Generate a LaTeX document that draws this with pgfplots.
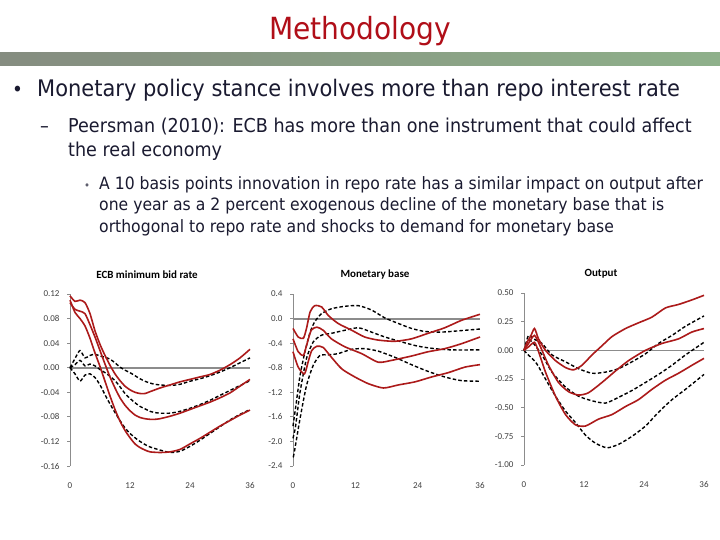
\documentclass[border=0pt]{standalone}
\usepackage{fontspec}
\setmainfont{DejaVu Sans}[FakeStretch=0.92]
\newfontfamily\chartfont{Carlito}
\usepackage{pgfplots}
\pgfplotsset{compat=1.18}
\definecolor{slidetxt}{RGB}{26,26,48}
\definecolor{titlered}{RGB}{176,14,24}
\definecolor{irfred}{RGB}{172,26,26}
\definecolor{axgray}{RGB}{140,140,140}
\definecolor{barleft}{RGB}{133,140,128}
\definecolor{barright}{RGB}{142,176,138}

\pgfplotsset{
  irf/.style={
    scale only axis, width=#1, height=172pt,
    anchor=south west, xmin=0, xmax=36,
    axis lines=left, x axis line style={draw=none},
    y axis line style={draw=axgray, line width=0.8pt, -},
    xtick={0,12,24,36}, xticklabels={0,12,24,36},
    x tick style={draw=none}, y tick style={draw=axgray, line width=0.8pt},
    tick align=outside, major tick length=3pt,
    ticklabel style={font=\chartfont\fontsize{9}{10}\selectfont, text=black!75},
    xticklabel style={yshift=-10pt},
    yticklabel style={xshift=-4pt},
    clip=false,
  },
  band/.style={irfred, line width=1.6pt, smooth, tension=0.4},
  alt/.style={black, line width=1.4pt, dash pattern=on 3.5pt off 2.2pt, smooth, tension=0.4},
}

\begin{document}
\begin{tikzpicture}
\path[use as bounding box, fill=white] (0pt,0pt) rectangle (720pt,-540pt);
\shade[left color=barleft, right color=barright] (0pt,-53pt) rectangle (720pt,-66pt);

\node[anchor=base, text=titlered, font=\fontsize{30.5}{32}\selectfont, inner sep=0pt] at (360pt,-40pt) {Methodology};

\node[anchor=base west, text=slidetxt, font=\fontsize{20}{22}\selectfont, inner sep=0pt] at (12pt,-97pt) {•};
\node[anchor=base west, text=slidetxt, font=\fontsize{22.8}{24}\selectfont, inner sep=0pt] at (37pt,-97pt) {Monetary policy stance involves more than repo interest rate};

\node[anchor=base west, text=slidetxt, font=\fontsize{19.1}{21}\selectfont, inner sep=0pt] at (40pt,-133pt) {–};
\node[anchor=base west, text=slidetxt, font=\fontsize{19.1}{21}\selectfont, inner sep=0pt] at (68pt,-133pt) {Peersman (2010): ECB has more than one instrument that could affect};
\node[anchor=base west, text=slidetxt, font=\fontsize{19.1}{21}\selectfont, inner sep=0pt] at (68pt,-157pt) {the real economy};

\node[anchor=base west, text=slidetxt!70, font=\fontsize{11}{13}\selectfont, inner sep=0pt] at (84pt,-190pt) {•};
\node[anchor=base west, text=slidetxt, font=\fontsize{17}{19}\selectfont, inner sep=0pt] at (99pt,-190pt) {A 10 basis points innovation in repo rate has a similar impact on output after};
\node[anchor=base west, text=slidetxt, font=\fontsize{17}{19}\selectfont, inner sep=0pt] at (99pt,-211pt) {one year as a 2 percent exogenous decline of the monetary base that is};
\node[anchor=base west, text=slidetxt, font=\fontsize{17}{19}\selectfont, inner sep=0pt] at (99pt,-233pt) {orthogonal to repo rate and shocks to demand for monetary base};

\node[font=\chartfont\bfseries\fontsize{11}{12}\selectfont] at (147pt,-275pt) {ECB minimum bid rate};
\node[font=\chartfont\bfseries\fontsize{11}{12}\selectfont] at (375pt,-275pt) {Monetary base};
\node[font=\chartfont\bfseries\fontsize{11}{12}\selectfont] at (601pt,-274pt) {Output};

% ECB minimum bid rate
\begin{axis}[irf=180pt, at={(70pt,-466pt)}, ymin=-0.16, ymax=0.12,
  ytick={-0.16,-0.12,-0.08,-0.04,0,0.04,0.08,0.12},
  yticklabels={-0.16,-0.12,-0.08,-0.04,0.00,0.04,0.08,0.12}]
\addplot[axgray, line width=2pt] coordinates {(0,0) (36,0)};
\addplot[alt] coordinates {(0,0)(1,0.015)(2,0.028)(3,0.016)(4,0.020)(5,0.022)(6,0.019)(7,0.017)(8,0.014)(9,0.008)(10,0.001)(11,-0.004)(12,-0.008)(13,-0.013)(14,-0.018)(15,-0.022)(16,-0.025)(17,-0.027)(18,-0.028)(20,-0.029)(22,-0.027)(24,-0.022)(26,-0.018)(28,-0.013)(30,-0.007)(32,0.000)(34,0.008)(36,0.016)};
\addplot[alt] coordinates {(0,0)(1,0.005)(2,0.012)(3,0.003)(4,0.006)(5,0.003)(6,-0.003)(7,-0.008)(8,-0.014)(9,-0.021)(10,-0.031)(11,-0.042)(12,-0.050)(13,-0.057)(14,-0.063)(15,-0.067)(16,-0.071)(17,-0.073)(18,-0.074)(20,-0.074)(22,-0.071)(24,-0.066)(26,-0.060)(28,-0.053)(30,-0.045)(32,-0.037)(34,-0.029)(36,-0.021)};
\addplot[alt] coordinates {(0,0)(1,-0.010)(2,-0.022)(3,-0.012)(4,-0.010)(5,-0.016)(6,-0.028)(7,-0.044)(8,-0.059)(9,-0.073)(10,-0.086)(11,-0.098)(12,-0.107)(13,-0.114)(14,-0.120)(15,-0.125)(16,-0.129)(18,-0.134)(20,-0.138)(22,-0.136)(24,-0.128)(26,-0.118)(28,-0.107)(30,-0.096)(32,-0.085)(34,-0.076)(36,-0.068)};
\addplot[band] coordinates {(0,0.117)(1,0.108)(2,0.110)(3,0.106)(4,0.088)(5,0.060)(6,0.038)(7,0.020)(8,0.004)(9,-0.010)(10,-0.021)(11,-0.030)(12,-0.036)(13,-0.040)(14,-0.042)(15,-0.042)(16,-0.039)(18,-0.033)(20,-0.028)(22,-0.023)(24,-0.019)(26,-0.015)(28,-0.011)(30,-0.004)(32,0.005)(34,0.016)(36,0.030)};
\addplot[band] coordinates {(0,0.106)(1,0.095)(2,0.092)(3,0.088)(4,0.070)(5,0.050)(6,0.028)(7,0.006)(8,-0.015)(9,-0.033)(10,-0.049)(11,-0.061)(12,-0.070)(13,-0.077)(14,-0.081)(15,-0.083)(16,-0.084)(17,-0.084)(18,-0.083)(20,-0.079)(22,-0.074)(24,-0.068)(26,-0.062)(28,-0.056)(30,-0.049)(32,-0.041)(34,-0.030)(36,-0.019)};
\addplot[band] coordinates {(0,0.110)(1,0.090)(2,0.080)(3,0.068)(4,0.048)(5,0.024)(6,0.002)(7,-0.022)(8,-0.046)(9,-0.068)(10,-0.087)(11,-0.102)(12,-0.114)(13,-0.124)(14,-0.130)(15,-0.134)(16,-0.137)(18,-0.138)(20,-0.137)(22,-0.133)(24,-0.124)(26,-0.115)(28,-0.105)(30,-0.095)(32,-0.086)(34,-0.077)(36,-0.069)};
\end{axis}

% Monetary base
\begin{axis}[irf=187pt, at={(293pt,-466pt)}, ymin=-2.4, ymax=0.4,
  ytick={-2.4,-2.0,-1.6,-1.2,-0.8,-0.4,0,0.4},
  yticklabels={-2.4,-2.0,-1.6,-1.2,-0.8,-0.4,0.0,0.4}]
\addplot[axgray, line width=2pt] coordinates {(0,0) (36,0)};
\addplot[alt] coordinates {(0,-1.75)(0.5,-1.45)(1.35,-0.93)(2.3,-0.54)(3.3,-0.22)(4.2,-0.05)(5.5,0.08)(7.4,0.16)(10,0.20)(12.6,0.21)(15.1,0.14)(17.7,0.01)(20.3,-0.08)(22.8,-0.16)(25.4,-0.21)(28.6,-0.22)(31.8,-0.20)(36,-0.17)};
\addplot[alt] coordinates {(0,-1.95)(0.5,-1.75)(1.35,-1.20)(2.6,-0.65)(3.9,-0.38)(5.5,-0.27)(7.4,-0.24)(10,-0.19)(12.6,-0.15)(15.1,-0.22)(17.7,-0.30)(20.9,-0.38)(24.1,-0.45)(27.3,-0.49)(30.5,-0.51)(36,-0.51)};
\addplot[alt] coordinates {(0,-2.25)(0.2,-2.20)(1.35,-1.63)(2.6,-1.09)(3.9,-0.76)(5.2,-0.60)(6.8,-0.59)(8.7,-0.57)(11.3,-0.50)(13.8,-0.49)(16.4,-0.53)(19.6,-0.63)(22.8,-0.75)(26,-0.86)(29.2,-0.95)(32.4,-1.01)(36,-1.02)};
\addplot[band] coordinates {(0,-0.16)(1,-0.30)(2,-0.32)(2.6,-0.16)(3.3,0.11)(4.2,0.21)(5.5,0.19)(6.8,0.05)(8.7,-0.08)(11.3,-0.19)(13.8,-0.30)(16.4,-0.35)(19.6,-0.37)(22.8,-0.33)(26,-0.24)(29.2,-0.15)(32.4,-0.03)(36,0.07)};
\addplot[band] coordinates {(0,-0.33)(1,-0.54)(2,-0.60)(2.6,-0.44)(3.5,-0.19)(4.6,-0.14)(5.8,-0.19)(7.4,-0.33)(10,-0.46)(13.2,-0.57)(16.4,-0.71)(19,-0.68)(22.8,-0.61)(26,-0.54)(29.2,-0.49)(32.4,-0.41)(36,-0.30)};
\addplot[band] coordinates {(0,-0.54)(1,-0.79)(2.2,-0.90)(2.9,-0.71)(3.6,-0.52)(4.6,-0.45)(5.8,-0.47)(7.4,-0.63)(9.4,-0.82)(11.9,-0.95)(14.5,-1.06)(17.4,-1.13)(20.3,-1.08)(23.5,-1.03)(26.7,-0.95)(29.9,-0.88)(33.1,-0.79)(36,-0.75)};
\end{axis}

% Output
\begin{axis}[irf=180pt, at={(524pt,-465pt)}, ymin=-1, ymax=0.5,
  ytick={-1,-0.75,-0.5,-0.25,0,0.25,0.5},
  yticklabels={-1.00,-0.75,-0.50,-0.25,0.00,0.25,0.50}]
\addplot[axgray, line width=0.8pt] coordinates {(0,0) (36,0)};
\addplot[alt] coordinates {(0,0)(0.9,0.13)(1.9,0.10)(3.6,0.06)(5.6,-0.04)(8.3,-0.10)(10.9,-0.16)(13.6,-0.20)(16.3,-0.19)(18.9,-0.16)(21.6,-0.10)(24.3,-0.03)(26.9,0.06)(29.6,0.13)(32.3,0.21)(36,0.30)};
\addplot[alt] coordinates {(0,0)(0.9,0.09)(1.9,0.06)(3.6,-0.04)(5.6,-0.19)(8.3,-0.32)(10.9,-0.40)(13.6,-0.44)(16.3,-0.46)(18.9,-0.41)(21.6,-0.35)(24.3,-0.28)(26.9,-0.21)(29.6,-0.13)(32.3,-0.04)(36,0.07)};
\addplot[alt] coordinates {(0,0)(0.6,-0.03)(1.6,-0.07)(2.6,-0.12)(4.3,-0.25)(6.3,-0.40)(8.3,-0.53)(10.3,-0.63)(12.3,-0.74)(14.3,-0.81)(16.6,-0.85)(18.9,-0.82)(21.6,-0.75)(24.3,-0.66)(26.9,-0.54)(29.6,-0.43)(32.3,-0.34)(36,-0.21)};
\addplot[band] coordinates {(0,0)(0.6,0.07)(1.3,0.12)(2.1,0.19)(2.9,0.10)(4.3,0)(6.3,-0.09)(8.3,-0.15)(9.9,-0.17)(11.6,-0.13)(13.6,-0.04)(15.6,0.04)(17.6,0.12)(20.3,0.19)(22.9,0.24)(25.6,0.29)(28.3,0.37)(30.9,0.40)(33.6,0.44)(36,0.48)};
\addplot[band] coordinates {(0,0)(0.9,0.06)(2.1,0.13)(3.3,0.03)(4.9,-0.13)(6.9,-0.28)(8.9,-0.36)(10.9,-0.39)(12.9,-0.37)(15.6,-0.28)(18.3,-0.18)(20.9,-0.09)(24.3,0)(27.6,0.06)(30.9,0.10)(33.6,0.16)(36,0.19)};
\addplot[band] coordinates {(0,0)(0.9,0.03)(2.1,0.07)(2.9,-0.01)(4.3,-0.19)(6.3,-0.40)(8.3,-0.56)(10.3,-0.65)(12.3,-0.66)(14.9,-0.60)(17.6,-0.56)(20.3,-0.49)(22.9,-0.43)(25.6,-0.34)(28.3,-0.26)(30.9,-0.20)(33.6,-0.13)(36,-0.07)};
\end{axis}
\end{tikzpicture}
\end{document}
